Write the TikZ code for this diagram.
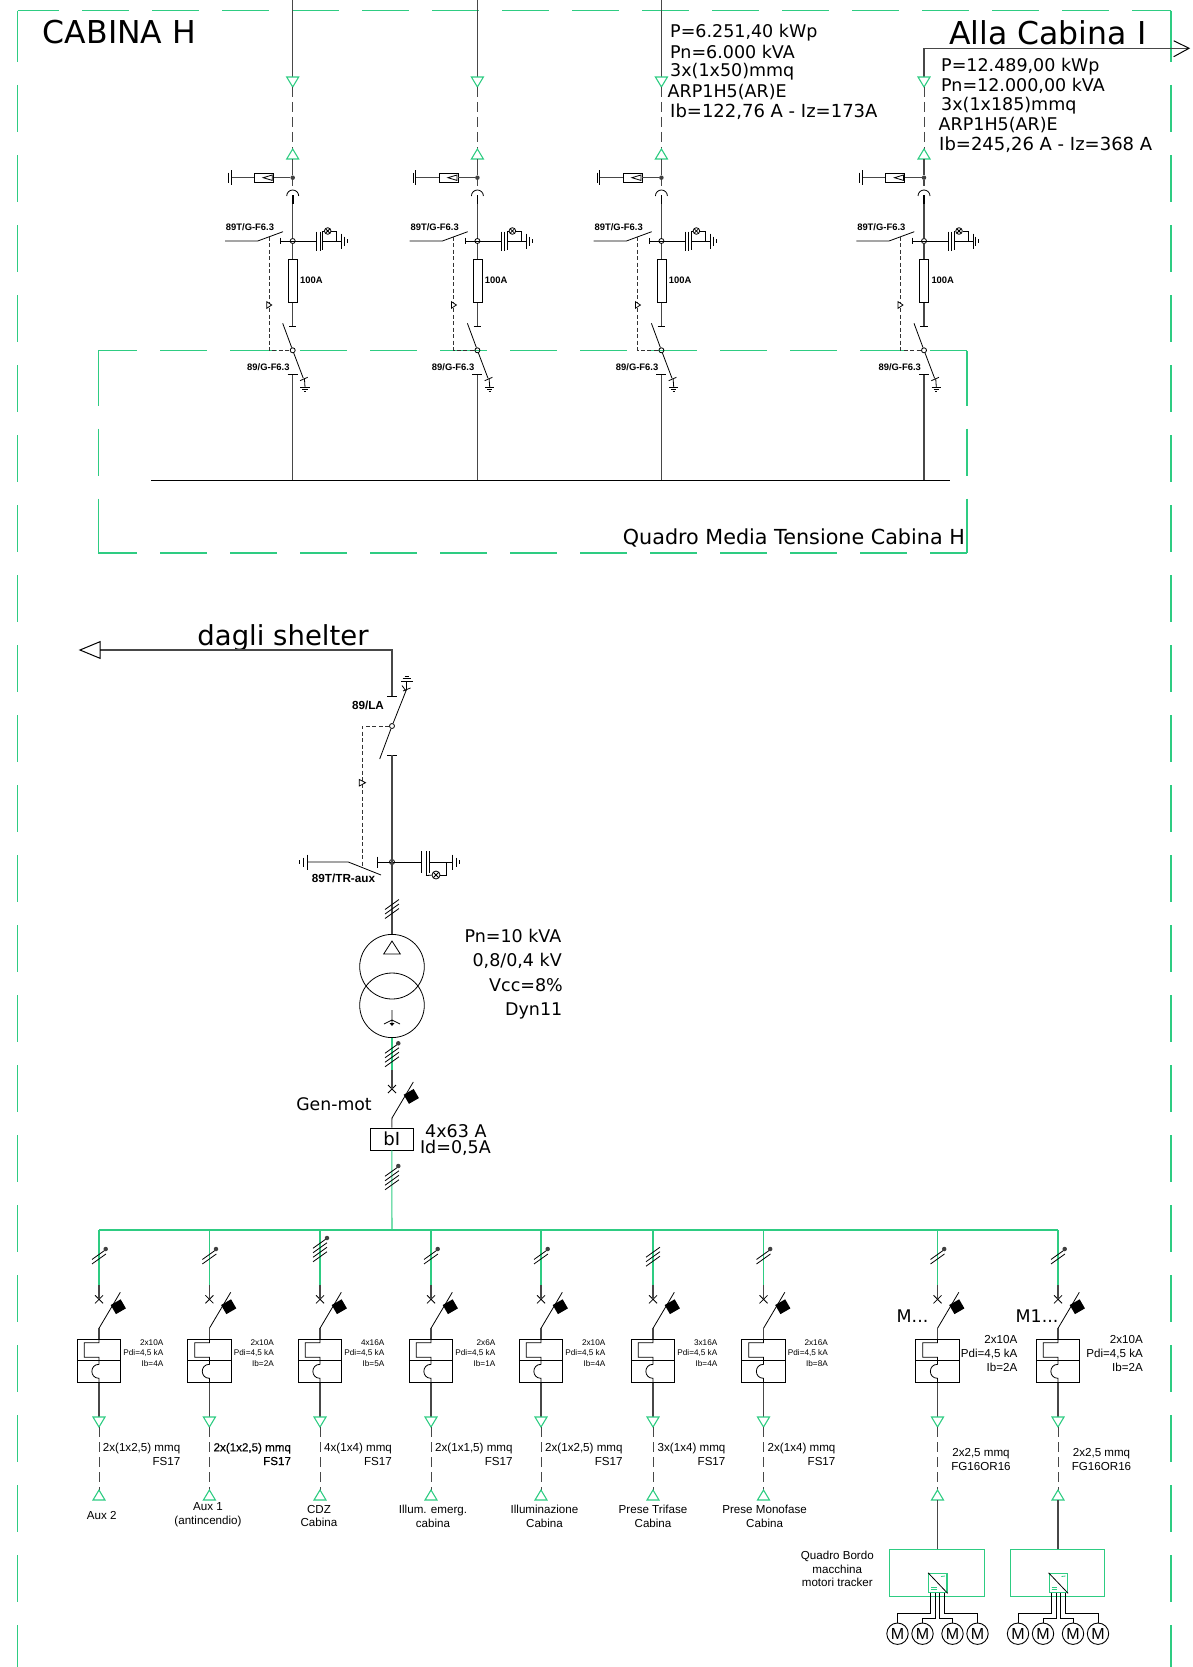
\documentclass[tikz,border=0pt]{standalone}
\usepackage{fontspec}
\setmainfont{Liberation Sans}
\newfontfamily\dejavu{DejaVu Sans}
\newfontfamily\heavy[FakeBold=0.35]{Liberation Sans}
\definecolor{cabgreen}{RGB}{46,204,130}
\tikzstyle{wire}=[draw=black!72, line width=1.05pt]
\tikzstyle{fine}=[draw=black, line width=0.8pt]
\tikzstyle{cable}=[draw=black!72, line width=1pt, dash pattern=on 10pt off 5pt]
\tikzstyle{link}=[draw=black!80, line width=1pt, dash pattern=on 4pt off 2.5pt]
\tikzstyle{greenwire}=[draw=cabgreen, line width=1.05pt]
\tikzstyle{cabframe}=[draw=cabgreen, line width=1.1pt, dash pattern=on 47pt off 23pt]
\tikzstyle{term}=[draw=cabgreen, line width=1.1pt, line join=miter]
\tikzstyle{tag}=[inner sep=0pt, font=\fontsize{9.4}{10}\selectfont\bfseries]
\tikzstyle{tagbig}=[inner sep=0pt, font=\fontsize{11.7}{12}\selectfont\bfseries]
\tikzstyle{title}=[inner sep=0pt, font=\dejavu\fontsize{31.5}{33}\selectfont]
\tikzstyle{data}=[inner sep=0pt, anchor=west, font=\dejavu\fontsize{17.5}{18}\selectfont]
\tikzstyle{datawide}=[inner sep=0pt, anchor=west, font=\dejavu\fontsize{18}{18}\selectfont]
\tikzstyle{spec}=[inner sep=0pt, anchor=east, font=\dejavu\fontsize{17.5}{18}\selectfont]
\tikzstyle{rating}=[inner sep=0pt, anchor=east, align=right, font=\fontsize{8.2}{10.7}\selectfont]
\tikzstyle{ratingbig}=[inner sep=0pt, anchor=east, align=right, font=\fontsize{11.6}{14}\selectfont]
\tikzstyle{cablelabel}=[inner sep=0pt, anchor=west, align=right, font=\fontsize{11.6}{13.7}\selectfont]
\tikzstyle{load}=[inner sep=0pt, align=center, font=\fontsize{11.6}{13.7}\selectfont]
\tikzstyle{joint}=[circle, draw=black, line width=0.8pt, minimum size=5pt, inner sep=0pt]
\tikzstyle{dotnode}=[circle, fill=black!75, minimum size=4.5pt, inner sep=0pt]
\tikzstyle{motor}=[circle, draw=black, line width=0.9pt, minimum size=21.4pt, inner sep=0pt, font=\fontsize{16}{16}\selectfont]

\newcommand{\termdown}[2]{\draw[term, shift={(#1,#2)}] (-6,0) -- (6,0) -- (0,10) -- cycle;}
\newcommand{\termup}[2]{\draw[term, shift={(#1,#2)}] (-6,10) -- (6,10) -- (0,0) -- cycle;}
\newcommand{\earthbars}[3]{%
  \draw[fine, shift={(#1,#2)}] (0,-7.5) -- (0,7.5) ({#3},-4.5) -- ({#3},4.5) ({2*#3},-2) -- ({2*#3},2);}
\newcommand{\ticks}[3]{%
  \foreach \i in {1,...,#3}{
    \pgfmathsetmacro{\tky}{#2+(\i-(#3+1)/2)*4.5}
    \draw[fine] ({#1-7},{\tky+5}) -- ({#1+7},{\tky-5});
  }}
\newcommand{\feeder}[3]{%
  \begin{scope}[xshift=#2pt]
    \coordinate (#1top) at (0,#3);
    \coordinate (#1a) at (0,77);
    \coordinate (#1b) at (0,87);
    \coordinate (#1c) at (0,149);
    \coordinate (#1d) at (0,159);
    \node (#1dot) [dotnode] at (0,177.7) {};
    \draw[wire] (#1top) -- (#1a);
    \termdown{0}{77}
    \draw[cable] (#1b) -- (#1c);
    \termup{0}{149}
    \draw[wire] (#1d) -- (#1dot);
    % surge arrester
    \node (#1sa) [fine, draw, minimum width=19pt, minimum height=9pt, inner sep=0pt] at (-29,177.7) {};
    \draw[fine] (-20.5,175) -- (-29.5,177.7) -- (-20.5,180.4) -- cycle;
    \coordinate (#1ea) at (-61.7,177.7);
    \draw[wire] (#1dot) -- (#1sa);
    \draw[wire] (#1sa) -- (#1ea);
    \draw[fine] (-61.7,170) -- (-61.7,185) (-64.3,172.5) -- (-64.3,182.5);
    % withdrawable contact
    \draw[wire] (#1dot) -- (0,186);
    \draw[fine] (-6,196) arc[start angle=180, end angle=360, radius=6];
    \node (#1j) [joint] at (0,241) {};
    \coordinate (#1k) at (0,195);
    \draw[black, line width=1.8pt] (#1k) -- (0,204);
    \draw[wire] (0,204) -- (#1j);
    % earthing switch
    \coordinate (#1sl) at (-67.7,241);
    \coordinate (#1sm) at (-35,241);
    \coordinate (#1st) at (-9.7,231.7);
    \draw[fine] (#1sl) -- (#1sm) -- (#1st);
    \node (#1tag) [tag] at (-42.7,226.7) {89T/G-F6.3};
    \draw[fine] (-12,237.7) -- (-12,244.3);
    % capacitive divider with lamp
    \coordinate (#1cl) at (24,241);
    \coordinate (#1cr) at (30,241);
    \draw[fine] (-12,241) -- (#1cl);
    \draw[fine] (24,231.7) -- (24,251) (27.3,231.7) -- (27.3,251) (30,231) -- (30,250);
    \node (#1lamp) [joint, minimum size=6.6pt] at (35,231) {};
    \draw[fine] (33,229) -- (37,233) (33,233) -- (37,229);
    \draw[fine] (#1cr) -- (49,241);
    \draw[fine] (30,231) -- (#1lamp);
    \draw[fine] (#1lamp) -- (44,231) -- (44,241);
    \earthbars{49}{241}{2.8}
    % fuse
    \node (#1fuse) [fine, draw, minimum width=9pt, minimum height=43pt, inner sep=0pt] at (0,280.8) {};
    \node (#1amp) [tag, anchor=west] at (7.3,280) {100A};
    \coordinate (#1bar) at (0,326.7);
    \draw[wire] (#1j) -- (#1fuse);
    \draw[wire] (#1fuse) -- (#1bar);
    \draw[fine] (-3.7,326.7) -- (3.7,326.7);
    % line disconnector
    \node (#1jd) [joint] at (0,350.3) {};
    \draw[fine] (-10,323.3) -- (#1jd) -- (10.6,378.3);
    \draw[fine] (7.3,380.7) -- (15,377.3);
    \draw[fine] (11.7,378.3) -- (12.3,387);
    \draw[black, line width=1.4pt] (7.6,387.3) -- (17,387.3) (9.6,389.6) -- (15,389.6);
    \draw[black, line width=1.2pt] (11.2,391.6) -- (13.4,391.6);
    \node (#1tagd) [tag] at (-24.3,366.7) {89/G-F6.3};
    % mechanical interlock
    \coordinate (#1ia) at (-23.7,236.5);
    \coordinate (#1ib) at (-23.7,350.3);
    \draw[link] (#1ia) -- (#1ib) -- (#1jd);
    \draw[fine, fill=white] (-26,301.7) -- (-21,305) -- (-26,308.3) -- cycle;
    % to the bus
    \coordinate (#1bus) at (0,480);
    \draw[wire] (0,374) -- (#1bus);
    \draw[fine] (-5,374) -- (5,374);
  \end{scope}}
\newcommand{\breaker}[3]{%
  \begin{scope}[shift={(#2,#3)}]
    \coordinate (#1c) at (0,0);
    \coordinate (#1h) at (0,29);
    \coordinate (#1t) at (21.3,-7);
    \draw[fine] (-4,-4) -- (4,4) (-4,4) -- (4,-4);
    \draw[fine] (#1h) -- (#1t);
    \node (#1trip) [fill=black, rotate=30, minimum width=11.5pt, minimum height=10.5pt, inner sep=0pt] at (19.3,7.4) {};
  \end{scope}}
\newcommand{\branch}[2]{%
  \begin{scope}[xshift=#2pt]
    \coordinate (#1bus) at (0,1230);
    \coordinate (#1g) at (0,1285);
    \draw[greenwire] (#1bus) -- (#1g);
    \breaker{#1s}{0}{1299.3}
    \draw[wire] (#1g) -- (#1sc);
    \node (#1box) [fine, draw, minimum width=43.4pt, minimum height=43.3pt, inner sep=0pt] at (0,1360.7) {};
    \draw[fine] (#1box.west) -- (#1box.east);
    \draw[wire] (#1sh) -- (#1box.north);
    \draw[fine] (0,1339) -- (0,1342.7) -- (-14.7,1342.7) -- (-14.7,1357.3) -- (0,1357.3) -- (0,1360.7) -- (0,1364.3)
      .. controls (-9.5,1364.3) and (-9.5,1378.3) .. (0,1378.3) -- (0,1382.3);
    \coordinate (#1a) at (0,1417);
    \coordinate (#1b) at (0,1427);
    \coordinate (#1e) at (0,1490);
    \draw[wire] (#1box.south) -- (#1a);
    \termdown{0}{1417}
    \draw[cable] (#1b) -- (#1e);
    \termup{0}{1490}
  \end{scope}}
\newcommand{\drive}[2]{%
  \begin{scope}[xshift=#2pt]
    \node (#1qb) [greenwire, draw, minimum width=94.4pt, minimum height=47.4pt, inner sep=0pt] at (-0.5,1573) {};
    \coordinate (#1in) at (0,1500);
    \draw[wire] (#1in) -- (0,1549.3);
    \node (#1inv) [greenwire, draw, minimum width=18.4pt, minimum height=19.4pt, inner sep=0pt] at (0.3,1583) {};
    \draw[fine] (#1inv.north west) -- (#1inv.south east);
    \draw[cabgreen, line width=0.8pt] (3.5,1576.5) .. controls (5,1574.5) and (5.5,1578) .. (7.5,1576);
    \draw[cabgreen, line width=0.8pt] (-6.5,1587.5) -- (-1,1587.5) (-6.5,1589.5) -- (-1,1589.5);
    \node (#1ma) [motor] at (-40,1633.7) {M};
    \node (#1mb) [motor] at (-15,1633.7) {M};
    \node (#1mc) [motor] at (15,1633.7) {M};
    \node (#1md) [motor] at (40,1633.7) {M};
    \draw[fine] (-7,1592.7) -- (-7,1613.7) -| (#1ma.north);
    \draw[fine] (-2,1592.7) -- (-2,1618.3) -| (#1mb.north);
    \draw[fine] (2.3,1592.7) -- (2.3,1618.3) -| (#1mc.north);
    \draw[fine] (7,1592.7) -- (7,1613.7) -| (#1md.north);
  \end{scope}}

\begin{document}
\begin{tikzpicture}[x=1pt,y=-1pt]
    \useasboundingbox (0,0) rectangle (1192,1667);

    % frame of the cabin
    \draw[cabframe, dash phase=5.4pt] (17.7,10.7) -- (1171,10.7);
    \draw[cabframe] (17.7,15) -- (17.7,1667);
    \draw[cabframe] (1171,15) -- (1171,1667);
    \draw[greenwire] (17.7,10.7) -- (17.7,15) (1171,10.7) -- (1171,15);
    \node(cabina)[title] at (119.5,32) {CABINA H};

    % medium voltage board
    \draw[cabframe, dash phase=8pt] (98.3,350.7) -- (967,350.7);
    \draw[cabframe, dash phase=8pt] (98.3,553) -- (967,553);
    \draw[greenwire, dash pattern=on 55pt off 23pt on 47pt off 23pt on 55pt off 0pt] (98.3,350.7) -- (98.3,553);
    \draw[greenwire, dash pattern=on 55pt off 23pt on 47pt off 23pt on 55pt off 0pt] (967,350.7) -- (967,553);
    \node(board)[inner sep=0pt, anchor=east, font=\dejavu\fontsize{20.7}{22}\selectfont] at (965,538) {Quadro Media Tensione Cabina H};

    \coordinate (busA) at (151,480);
    \coordinate (busB) at (950,480);
    \draw[black, line width=0.95pt] (busA) -- (busB);

    \feeder{fa}{292.7}{0}
    \feeder{fb}{477.4}{0}
    \feeder{fc}{661.4}{0}
    \feeder{fd}{924}{48.3}

    % feeder data
    \node(pa)[data] at (670,32.7) {P=6.251,40 kWp};
    \node(pb)[data] at (670,51.7) {Pn=6.000 kVA};
    \node(pc)[data] at (670,71.5) {3x(1x50)mmq};
    \node(pd)[data] at (667.5,91.7) {ARP1H5(AR)E};
    \node(pe)[datawide] at (670,112) {Ib=122,76 A - Iz=173A};

    \node(ia)[title, anchor=east] at (1146.5,33) {Alla Cabina I};
    \coordinate (ib) at (1189,48.3);
    \draw[wire] (fdtop) -- (ib);
    \draw[fine, line width=1pt] (1173.7,40.7) -- (ib) -- (1173.7,56.7);
    \node(qa)[data] at (941,66.5) {P=12.489,00 kWp};
    \node(qb)[data] at (941,85.7) {Pn=12.000,00 kVA};
    \node(qc)[data] at (941,105.5) {3x(1x185)mmq};
    \node(qd)[data] at (938.5,125) {ARP1H5(AR)E};
    \node(qe)[datawide] at (939,145) {Ib=245,26 A - Iz=368 A};

    % incoming line
    \node(shelter)[inner sep=0pt, font=\dejavu\fontsize{27.5}{29}\selectfont] at (283,638) {dagli shelter};
    \coordinate (inA) at (100,650);
    \coordinate (inB) at (392,650);
    \coordinate (inC) at (392,696.7);
    \draw[wire] (inA) -- (inB) -- (inC);
    \draw[black, line width=1pt] (100,641.7) -- (80,650) -- (100,658.3) -- cycle;
    \draw[fine] (387,696.7) -- (397,696.7);

    \node(jla)[joint] at (392,726) {};
    \draw[fine] (379.7,759) -- (jla) -- (406.7,689);
    \draw[fine] (403,691) -- (410.5,688) (402,685.5) -- (406,691);
    \draw[fine] (406.7,689) -- (406.7,681);
    \draw[black, line width=1pt] (401,681) -- (412.5,681);
    \draw[fine] (402.5,678.5) -- (411,678.5) (404.5,676.3) -- (409,676.3);
    \node(la)[tagbig] at (368,705) {89/LA};
    \coordinate (lb) at (392,755.3);
    \draw[fine] (387,755.3) -- (397,755.3);

    % earthing switch of the transformer
    \node(jtr)[joint] at (392,862) {};
    \coordinate (ea) at (307.7,862);
    \coordinate (eb) at (348.3,862);
    \coordinate (ec) at (381,875);
    \draw[fine] (ea) -- (eb) -- (ec);
    \earthbars{307.7}{862}{-4.2}
    \node(tr)[tagbig] at (343.5,878.7) {89T/TR-aux};
    \coordinate (la1) at (362.3,726);
    \coordinate (la2) at (362.3,866.7);
    \draw[link] (jla) -- (la1) -- (la2);
    \draw[fine, fill=white] (359.3,779.5) -- (365.5,782.7) -- (359.3,786) -- cycle;

    \coordinate (ca) at (421.7,862);
    \coordinate (cb) at (429,862);
    \draw[fine] (377,862) -- (ca);
    \draw[fine] (377,856.5) -- (377,867.5);
    \draw[fine] (421.7,851) -- (421.7,873) (426,851) -- (426,875.5) (429,851) -- (429,873);
    \draw[fine] (cb) -- (452.5,862);
    \node(lampb)[joint, minimum size=8pt] at (436,875) {};
    \draw[fine] (433.3,872.3) -- (438.7,877.7) (433.3,877.7) -- (438.7,872.3);
    \draw[fine] (426,875.5) -- (lampb);
    \draw[fine] (lampb) -- (446.7,875) -- (446.7,862);
    \earthbars{452.5}{862}{3.5}

    % transformer
    \node(t1)[circle, fine, draw, minimum size=64.6pt, inner sep=0pt] at (392,966.7) {};
    \node(t2)[circle, fine, draw, minimum size=64.6pt, inner sep=0pt] at (392,1005.3) {};
    \draw[wire] (lb) -- (t1.north);
    \ticks{392}{909}{3}
    \draw[fine] (383.7,954) -- (392,941) -- (400.3,954) -- cycle;
    \draw[fine] (392,1010) -- (392,1024) (384,1024) -- (392,1020) -- (400,1024);
    \fill[black] (389.5,1023) -- (394.5,1023) -- (392,1026) -- cycle;
    \node(pn)[spec] at (561.5,936) {Pn=10 kVA};
    \node(kv)[spec] at (562,961) {0,8/0,4 kV};
    \node(vcc)[spec] at (563,984.7) {Vcc=8\%};
    \node(dyn)[spec] at (562.5,1010.5) {Dyn11};

    % general breaker
    \coordinate (ga) at (392,1070);
    \draw[greenwire] (t2.south) -- (ga);
    \ticks{392}{1055}{4}
    \node(gd)[dotnode] at (398.3,1043.3) {};
    \breaker{gs}{392}{1089}
    \draw[wire] (ga) -- (gsc);
    \node(gen)[inner sep=0pt, font=\dejavu\fontsize{17.3}{18}\selectfont] at (334,1104.3) {Gen-mot};
    \node(bi)[fine, draw, minimum width=43pt, minimum height=22pt, inner sep=0pt, font=\dejavu\fontsize{18}{18}\selectfont] at (391.8,1139) {bI};
    \draw[wire] (gsh) -- (bi.north);
    \node(ga1)[spec] at (486.7,1131) {4x63 A};
    \node(ga2)[spec] at (491,1148.3) {Id=0,5A};
    \coordinate (bm) at (392,1230);
    \draw[greenwire] (bi.south) -- (bm);
    \ticks{392}{1178}{4}
    \node(gd2)[dotnode] at (398.3,1166) {};

    % auxiliary bus
    \coordinate (bl) at (99,1230);
    \coordinate (br) at (1058,1230);
    \draw[greenwire] (bl) -- (br);

    \branch{ba}{99}
    \branch{bb}{209.4}
    \branch{bc}{320}
    \branch{bd}{431}
    \branch{be}{541}
    \branch{bf}{653}
    \branch{bg}{763.5}
    \branch{bh}{937.5}
    \branch{bj}{1058}

    \ticks{99}{1256.7}{2}      \node(da)[dotnode] at (105.7,1249) {};
    \ticks{209.4}{1256.7}{2}   \node(db)[dotnode] at (216,1249) {};
    \ticks{320}{1250}{4}       \node(dc)[dotnode] at (327,1238) {};
    \ticks{431}{1256.7}{2}     \node(dd)[dotnode] at (437.7,1249) {};
    \ticks{541}{1256.7}{2}     \node(de)[dotnode] at (547.7,1249) {};
    \ticks{653}{1256.7}{3}
    \ticks{763.5}{1256.7}{2}   \node(dg)[dotnode] at (770.2,1249) {};
    \ticks{937.5}{1256.7}{2}   \node(dh)[dotnode] at (944.2,1249) {};
    \ticks{1058}{1256.7}{2}    \node(dj)[dotnode] at (1064.7,1249) {};

    \node(ra)[rating] at (163.5,1353) {2x10A\\Pdi=4,5 kA\\Ib=4A};
    \node(rb)[rating] at (274,1353) {2x10A\\Pdi=4,5 kA\\Ib=2A};
    \node(rc)[rating] at (384.5,1353) {4x16A\\Pdi=4,5 kA\\Ib=5A};
    \node(rd)[rating] at (495.5,1353) {2x6A\\Pdi=4,5 kA\\Ib=1A};
    \node(re)[rating] at (605.5,1353) {2x10A\\Pdi=4,5 kA\\Ib=4A};
    \node(rf)[rating] at (717.5,1353) {3x16A\\Pdi=4,5 kA\\Ib=4A};
    \node(rg)[rating] at (828,1353) {2x16A\\Pdi=4,5 kA\\Ib=8A};
    \node(rh)[ratingbig] at (1017.5,1353) {2x10A\\Pdi=4,5 kA\\Ib=2A};
    \node(rj)[ratingbig] at (1143,1353) {2x10A\\Pdi=4,5 kA\\Ib=2A};

    \node(ca1)[cablelabel] at (102.7,1454) {2x(1x2,5) mmq\\FS17};
    \node(ca2)[cablelabel, font=\heavy\fontsize{11.6}{13.7}\selectfont] at (213.4,1454) {2x(1x2,5) mmq\\FS17};
    \node(ca3)[cablelabel] at (324,1454) {4x(1x4) mmq\\FS17};
    \node(ca4)[cablelabel] at (435,1454) {2x(1x1,5) mmq\\FS17};
    \node(ca5)[cablelabel] at (545,1454) {2x(1x2,5) mmq\\FS17};
    \node(ca6)[cablelabel] at (657.5,1454) {3x(1x4) mmq\\FS17};
    \node(ca7)[cablelabel] at (767.5,1454) {2x(1x4) mmq\\FS17};
    \node(ca8)[load] at (981,1459.5) {2x2,5 mmq\\FG16OR16};
    \node(ca9)[load] at (1101.5,1459.5) {2x2,5 mmq\\FG16OR16};

    \node(lt1)[load] at (101.7,1515.7) {Aux 2};
    \node(lt2)[load] at (208,1514.5) {Aux 1\\(antincendio)};
    \node(lt3)[load] at (319,1516) {CDZ\\Cabina};
    \node(lt4)[load] at (433,1516) {Illum. emerg.\\cabina};
    \node(lt5)[load] at (544.5,1516) {Illuminazione\\Cabina};
    \node(lt6)[load] at (653,1516) {Prese Trifase\\Cabina};
    \node(lt7)[load] at (764.6,1516) {Prese Monofase\\Cabina};

    \node(mh)[inner sep=0pt, font=\dejavu\fontsize{17.4}{18}\selectfont] at (912.5,1316) {M...};
    \node(mj)[inner sep=0pt, font=\dejavu\fontsize{17.4}{18}\selectfont] at (1037,1316) {M1...};

    % tracker motors
    \drive{qh}{937.5}
    \drive{qj}{1058}
    \node(qbt)[load] at (837.3,1569) {Quadro Bordo\\macchina\\motori tracker};
\end{tikzpicture}
\end{document}
